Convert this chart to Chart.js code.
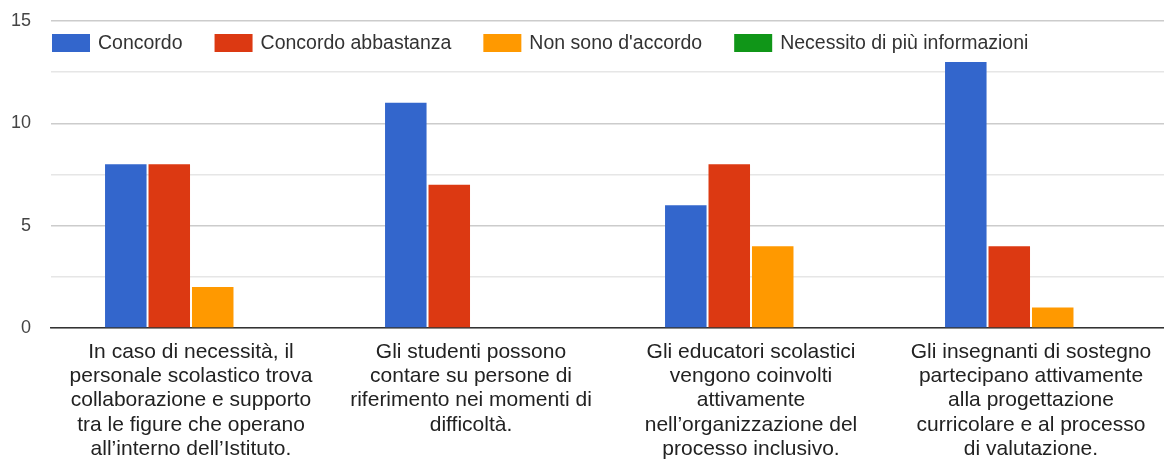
<!DOCTYPE html>
<html>
<head>
<meta charset="utf-8">
<script src="https://cdn.jsdelivr.net/npm/chart.js@4.4.1/dist/chart.umd.min.js"></script>
<style>
  html, body { margin: 0; padding: 0; background: #fff; }
  #wrap { width: 1164px; height: 461px; }
</style>
</head>
<body>
<div id="wrap"><canvas id="myChart" width="1164" height="461"></canvas></div>
<script>
// survey answers per statement
const categories = [
    ['In caso di necessità, il', 'personale scolastico trova', 'collaborazione e supporto', 'tra le figure che operano', 'all\u2019interno dell\u2019Istituto.'],
    ['Gli studenti possono', 'contare su persone di', 'riferimento nei momenti di', 'difficoltà.'],
    ['Gli educatori scolastici', 'vengono coinvolti', 'attivamente', 'nell\u2019organizzazione del', 'processo inclusivo.'],
    ['Gli insegnanti di sostegno', 'partecipano attivamente', 'alla progettazione', 'curricolare e al processo', 'di valutazione.']
];
const seriesNames = ['Concordo', 'Concordo abbastanza', "Non sono d'accordo", 'Necessito di più informazioni'];
const concordo = [8, 11, 6, 13];
const abbastanza = [8, 7, 8, 4];
const nonAccordo = [2, 0, 4, 1];
const piuInfo = [0, 0, 0, 0];
const yTicks = [0, 5, 10, 15];

const colors = ['#3366cc', '#dc3912', '#ff9900', '#109618'];
const values = [concordo, abbastanza, nonAccordo, piuInfo];
const font = "'Liberation Sans', Arial, sans-serif";

const datasets = seriesNames.map((name, i) => ({
    label: name,
    data: values[i],
    backgroundColor: colors[i],
    borderWidth: 0,
    barPercentage: 0.955,
    categoryPercentage: 0.621
}));

// the plot runs a little past the right edge of the canvas
const bleedRight = {
    id: 'bleedRight',
    afterLayout(chart) {
        const x = chart.scales.x;
        x.right += 7;
        x.width += 7;
        chart.chartArea.right += 7;
        chart.chartArea.width += 7;
        x.configure();
    }
};

// one-row legend drawn inside the plot, just under the top gridline
const innerLegend = {
    id: 'innerLegend',
    afterDraw(chart) {
        const ctx = chart.ctx;
        const area = chart.chartArea;
        let x = area.left + 1;
        const y = area.top + 22;
        ctx.save();
        ctx.font = '19.5px ' + font;
        ctx.textBaseline = 'middle';
        chart.data.datasets.forEach(ds => {
            ctx.fillStyle = ds.backgroundColor;
            ctx.fillRect(x, y - 9, 38, 18);
            x += 46;
            ctx.fillStyle = '#333';
            ctx.fillText(ds.label, x, y + 1);
            x += ctx.measureText(ds.label).width + 32;
        });
        ctx.restore();
    }
};

new Chart(document.getElementById('myChart').getContext('2d'), {
    type: 'bar',
    data: { labels: categories, datasets: datasets },
    plugins: [bleedRight, innerLegend],
    options: {
        responsive: false,
        animation: false,
        layout: { padding: { left: 1, right: 0, top: 21, bottom: 0 } },
        plugins: {
            tooltip: { enabled: false },
            legend: { display: false }
        },
        scales: {
            x: {
                afterFit: axis => { axis.height = 133; },
                grid: { display: false, drawTicks: false },
                border: { color: '#333', width: 1.5 },
                ticks: {
                    color: '#222',
                    maxRotation: 0,
                    autoSkip: false,
                    padding: 12,
                    font: { family: font, size: 21, lineHeight: 1.155 }
                }
            },
            y: {
                min: 0,
                max: 15,
                afterFit: axis => {
                    axis.width = 50;
                    axis.paddingTop = 0;
                    axis.paddingBottom = 0;
                },
                grid: {
                    color: c => yTicks.includes(c.tick.value) ? '#cccccc' : '#e6e6e6',
                    lineWidth: 1.5,
                    drawTicks: false
                },
                border: { display: false },
                afterBuildTicks: axis => {
                    const t = [];
                    for (let v = 0; v <= 15; v += 2.5) t.push({ value: v });
                    axis.ticks = t;
                },
                ticks: {
                    color: '#444',
                    padding: 20,
                    font: { family: font, size: 18 },
                    callback: v => yTicks.includes(v) ? String(v) : ''
                }
            }
        }
    }
});
</script>
</body>
</html>
